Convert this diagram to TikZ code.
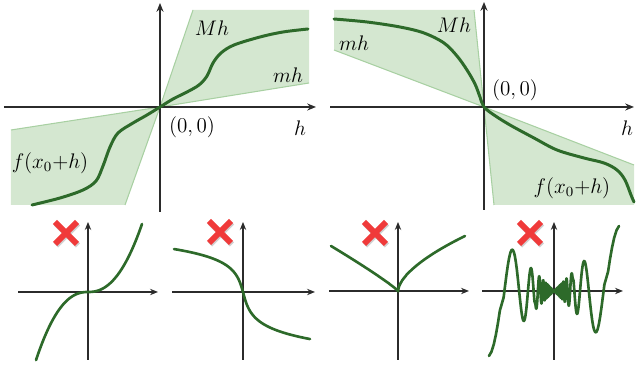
\documentclass[tikz,border=0pt]{standalone}
\usetikzlibrary{arrows.meta}
\definecolor{cdark}{HTML}{2D6A2A}
\definecolor{cfill}{HTML}{D4E7D0}
\definecolor{cedge}{HTML}{A8D0A2}
\definecolor{caxis}{HTML}{2B2B2B}
\definecolor{cred}{HTML}{F03A3A}
\begin{document}
\begin{tikzpicture}[x=0.02cm,y=-0.02cm,
  axisbig/.style={draw=caxis,line width=1.1pt,-{Stealth[length=5pt,width=4pt]}},
  axissmall/.style={draw=caxis,line width=0.85pt,-{Stealth[length=4.5pt,width=3.6pt]}},
  cone/.style={fill=cfill,draw=none},
  coneedge/.style={draw=cedge,line width=0.6pt},
  curvebig/.style={draw=cdark,line width=1.7pt,line cap=round},
  curvesmall/.style={draw=cdark,line width=1.5pt,line cap=round},
  lab/.style={font=\fontsize{12}{14}\selectfont,inner sep=0pt},
  crossline/.style={draw=cred,line width=3.4pt},
  crossshadow/.style={draw=black!18,line width=3.4pt}]
\useasboundingbox (0,0) rectangle (637,367);

% ---------- top-left panel ----------
\coordinate (O1) at (160,107);
\fill[cone] (O1) -- (193,10) -- (309,10) -- (309,83) -- cycle;
\fill[cone] (O1) -- (11,130) -- (11,205) -- (125,205) -- cycle;
\draw[coneedge] (193,10) -- (O1) -- (309,83);
\draw[coneedge] (11,130) -- (O1) -- (125,205);
\coordinate (A1l) at (4,107); \coordinate (A1r) at (316,107);
\coordinate (A1b) at (160,212); \coordinate (A1t) at (160,3);
\draw[axisbig] (A1l) -- (A1r);
\draw[axisbig] (A1b) -- (A1t);
\draw[curvebig] plot[smooth,tension=0.55] coordinates {(32,205) (60,198) (83,190) (96,181) (103,166) (110,147) (118,133) (133,123) (147,115) (160,107) (173,99) (187,92) (199,85) (207,76) (213,63) (221,53) (234,45) (260,37) (283,32) (308,29)};
\node[lab] (Mh1) at (212,28) {$Mh$};
\node[lab] (mh1) at (288,75) {$mh$};
\node[lab] (zero1) at (192,127) {$(0,0)$};
\node[lab] (h1) at (300,128) {$h$};
\node[lab] (f1) at (50,163) {$f(x_0{+}h)$};

% ---------- top-right panel ----------
\coordinate (O2) at (484,107);
\fill[cone] (O2) -- (474,10) -- (334,10) -- (334,50) -- cycle;
\fill[cone] (O2) -- (494,205) -- (634,205) -- (634,165) -- cycle;
\draw[coneedge] (474,10) -- (O2) -- (334,50);
\draw[coneedge] (494,205) -- (O2) -- (634,165);
\coordinate (A2l) at (330,107); \coordinate (A2r) at (634,107);
\coordinate (A2b) at (484,210); \coordinate (A2t) at (484,2);
\draw[axisbig] (A2l) -- (A2r);
\draw[axisbig] (A2b) -- (A2t);
\draw[curvebig] plot[smooth,tension=0.55] coordinates {(334,19) (367,22) (400,27) (424,33) (444,43) (457,56) (467,70) (475,84) (480,97) (484,107) (494,115) (510,125) (534,138) (557,150) (584,158) (604,163) (617,170) (625,180) (631,195) (634,202)};
\node[lab] (Mh2) at (454,25) {$Mh$};
\node[lab] (mh2) at (354,43) {$mh$};
\node[lab] (zero2) at (515,90) {$(0,0)$};
\node[lab] (h2) at (627,128) {$h$};
\node[lab] (f2) at (572,188) {$f(x_0{+}h)$};

% ---------- bottom panel 1 ----------
\coordinate (B1l) at (18,292); \coordinate (B1r) at (158,292);
\coordinate (B1b) at (88,360); \coordinate (B1t) at (88,222);
\draw[axissmall] (B1l) -- (B1r);
\draw[axissmall] (B1b) -- (B1t);
\draw[curvesmall] plot[domain=-52:0,samples=60,variable=\u] ({88+\u},{292+0.0077*pow(-\u,2.3)})
  -- plot[domain=0:54,samples=60,variable=\u] ({88+\u},{292-0.00705*pow(\u,2.3)});

% ---------- bottom panel 2 ----------
\coordinate (B2l) at (172,292); \coordinate (B2r) at (315,292);
\coordinate (B2b) at (243,360); \coordinate (B2t) at (243,222);
\draw[axissmall] (B2l) -- (B2r);
\draw[axissmall] (B2b) -- (B2t);
\draw[curvesmall] plot[domain=69:0,samples=80,variable=\u] ({243-\u},{292-11.5*ln(\u/3.3+sqrt((\u/3.3)^2+1))})
  -- plot[domain=0:67,samples=80,variable=\u] ({243+\u},{292+12.7*ln(\u/3.3+sqrt((\u/3.3)^2+1))});

% ---------- bottom panel 3 ----------
\coordinate (B3l) at (329,291); \coordinate (B3r) at (469,291);
\coordinate (B3b) at (398,360); \coordinate (B3t) at (398,222);
\draw[axissmall] (B3l) -- (B3r);
\draw[axissmall] (B3b) -- (B3t);
\draw[curvesmall] plot[domain=67:0.001,samples=60,variable=\u] ({398-\u},{291-45*pow(\u/67,0.9)})
  -- plot[domain=0.001:67,samples=80,variable=\u] ({398+\u},{291-55*pow(\u/67,0.6)});

% ---------- bottom panel 4 ----------
\coordinate (B4l) at (482,291); \coordinate (B4r) at (623,291);
\coordinate (B4b) at (554,360); \coordinate (B4t) at (554,222);
\draw[axissmall] (B4l) -- (B4r);
\draw[axissmall] (B4b) -- (B4t);
\draw[curvesmall,line join=round] plot[domain=0:120,samples=500,variable=\t]
   ({554-pow(\t/162.8+0.0538,-1.4286)},{291+pow(\t/162.8+0.0538,-1.4286)*cos(\t r)})
  -- plot[domain=120:0,samples=500,variable=\t]
   ({554+pow(\t/162.8+0.0538,-1.4286)},{291-pow(\t/162.8+0.0538,-1.4286)*cos(\t r)});

% ---------- red crosses ----------
\foreach \cx/\cy in {66/233,220/232,375/233,530/233}{
  \draw[crossshadow] (\cx-10,\cy-9.5) -- (\cx+12,\cy+12.5);
  \draw[crossshadow] (\cx+12,\cy-9.5) -- (\cx-10,\cy+12.5);
  \draw[crossline] (\cx-11,\cy-11) -- (\cx+11,\cy+11);
  \draw[crossline] (\cx+11,\cy-11) -- (\cx-11,\cy+11);
}
\end{tikzpicture}
\end{document}
